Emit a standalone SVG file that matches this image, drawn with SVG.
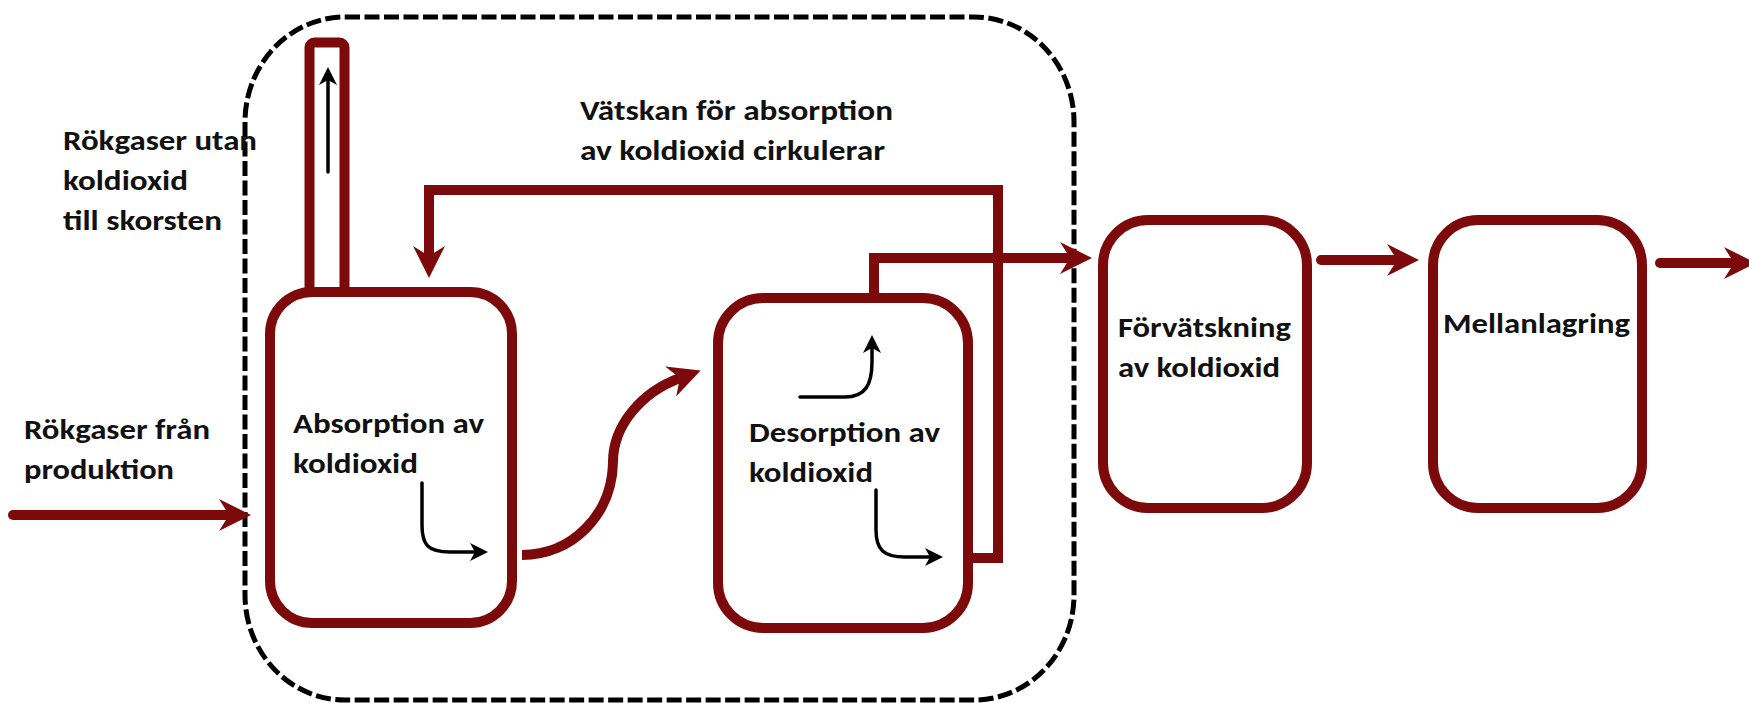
<svg xmlns="http://www.w3.org/2000/svg" width="1749" height="703" viewBox="0 0 1749 703">
<style>
.lbl{font-family:Carlito,Lato,"Liberation Sans",sans-serif;font-weight:bold;font-size:29px;fill:#111}
.box{fill:#fff;stroke:#7d0a0a;stroke-width:10}
.red{fill:none;stroke:#7d0a0a;stroke-width:10;stroke-linejoin:miter}
.blk{fill:none;stroke:#000;stroke-width:3.5;stroke-linecap:round}
</style>
<defs>
<marker id="ar" markerUnits="userSpaceOnUse" markerWidth="32" markerHeight="32" viewBox="0 0 32 32" refX="10" refY="16" orient="auto">
<path d="M0,0 L32,16 L0,32 L10,16 Z" fill="#7d0a0a"/>
</marker>
<marker id="ab" markerUnits="userSpaceOnUse" markerWidth="18" markerHeight="18" viewBox="0 0 18 18" refX="5" refY="9" orient="auto">
<path d="M0,0 L18,9 L0,18 L5,9 Z" fill="#000"/>
</marker>
</defs>
<rect id="system-boundary" x="245" y="17" width="829" height="683" rx="100" ry="105" fill="none" stroke="#000" stroke-width="5" stroke-dasharray="15 4.5"/>
<g id="absorption">
<rect class="box" x="270" y="292" width="242" height="331" rx="42"/>
<rect class="box" x="309.5" y="42.5" width="35" height="249.5" rx="5" stroke-width="9"/>
<text class="lbl" x="293" y="433" textLength="191" lengthAdjust="spacingAndGlyphs">Absorption av</text>
<text class="lbl" x="293" y="473" textLength="125" lengthAdjust="spacingAndGlyphs">koldioxid</text>
</g>
<g id="desorption">
<rect class="box" x="718" y="298" width="250" height="330" rx="45"/>
<text class="lbl" x="749" y="442" textLength="191" lengthAdjust="spacingAndGlyphs">Desorption av</text>
<text class="lbl" x="749" y="482" textLength="124" lengthAdjust="spacingAndGlyphs">koldioxid</text>
</g>
<g id="forvatskning">
<rect class="box" x="1103" y="220" width="204" height="288" rx="45"/>
<text class="lbl" x="1118" y="337" textLength="173" lengthAdjust="spacingAndGlyphs">Förvätskning</text>
<text class="lbl" x="1118" y="377" textLength="162" lengthAdjust="spacingAndGlyphs">av koldioxid</text>
</g>
<g id="mellanlagring">
<rect class="box" x="1433" y="220" width="209" height="288" rx="45"/>
<text class="lbl" x="1443" y="333" textLength="187" lengthAdjust="spacingAndGlyphs">Mellanlagring</text>
</g>
<g id="labels">
<text class="lbl" x="63" y="150" textLength="194" lengthAdjust="spacingAndGlyphs">Rökgaser utan</text>
<text class="lbl" x="63" y="190" textLength="125" lengthAdjust="spacingAndGlyphs">koldioxid</text>
<text class="lbl" x="63" y="230" textLength="159" lengthAdjust="spacingAndGlyphs">till skorsten</text>
<text class="lbl" x="24" y="439" textLength="186" lengthAdjust="spacingAndGlyphs">Rökgaser från</text>
<text class="lbl" x="24" y="479" textLength="150" lengthAdjust="spacingAndGlyphs">produktion</text>
<text class="lbl" x="580" y="120" textLength="313" lengthAdjust="spacingAndGlyphs">Vätskan för absorption</text>
<text class="lbl" x="580" y="160" textLength="305" lengthAdjust="spacingAndGlyphs">av koldioxid cirkulerar</text>
</g>
<g id="connectors">
<path class="red" d="M13,515 H229" stroke-linecap="round" marker-end="url(#ar)"/>
<path class="red" d="M522,555 C572,555 612,515 613,462 C613,425 642,392 680,378" stroke-width="11" marker-end="url(#ar)"/>
<path class="red" d="M968,558 H998 V190 H429 V256" stroke-width="11" marker-end="url(#ar)"/>
<path class="red" d="M874,293 V258 H1070" marker-end="url(#ar)"/>
<path class="red" d="M1321,260 H1397" stroke-linecap="round" marker-end="url(#ar)"/>
<path class="red" d="M1660,263 H1734" stroke-linecap="round" marker-end="url(#ar)"/>
<path class="blk" d="M328,172 V80" marker-end="url(#ab)"/>
<path class="blk" d="M422,483 V525 C422,545 428,552 450,552 H475" marker-end="url(#ab)"/>
<path class="blk" d="M800,397 H845 C865,397 872,385 872,362 V348" marker-end="url(#ab)"/>
<path class="blk" d="M876,490 V530 C876,550 884,557 905,557 H930" marker-end="url(#ab)"/>
</g>
</svg>
